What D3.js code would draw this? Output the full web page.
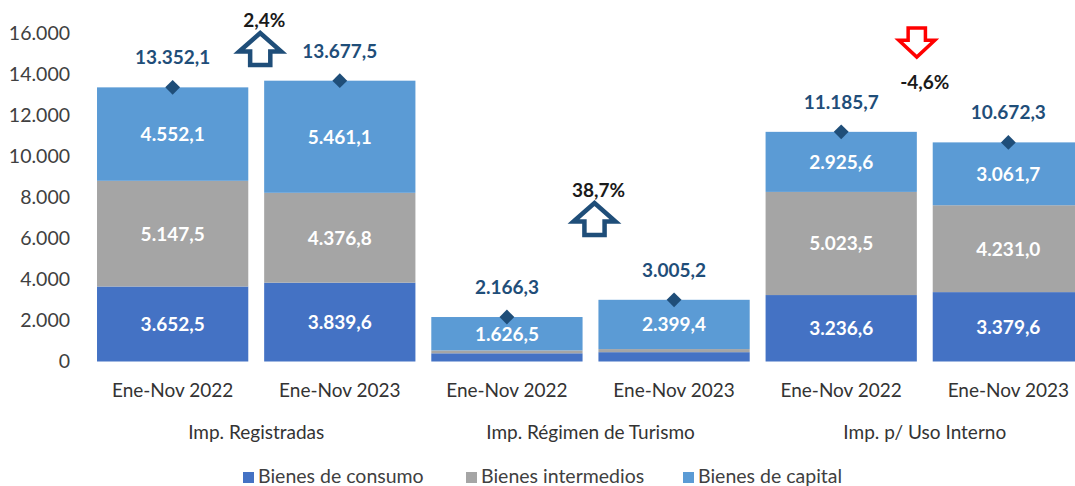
<!DOCTYPE html>
<html>
<head>
<meta charset="utf-8">
<style>
  body { margin: 0; background: #fff; overflow: hidden; }
  svg { font-family: Lato, "Open Sans", sans-serif; display: block; }
</style>
</head>
<body>
<svg id="chart" width="1075" height="486"></svg>
<script src="https://cdn.jsdelivr.net/npm/d3@7/dist/d3.min.js"></script>
<script>
// ---------------------------------------------------------------------------
//                               DATA
// ---------------------------------------------------------------------------
var groups = ["Imp. Registradas", "Imp. Régimen de Turismo", "Imp. p/ Uso Interno"];
var periods = ["Ene-Nov 2022", "Ene-Nov 2023"];
var seriesNames = ["Bienes de consumo", "Bienes intermedios", "Bienes de capital"];

// one value per bar (group x period), in order
var consumo     = [3652.5, 3839.6, 400.0, 455.0, 3236.6, 3379.6];
var intermedios = [5147.5, 4376.8, 139.8, 150.8, 5023.5, 4231.0];
var capital     = [4552.1, 5461.1, 1626.5, 2399.4, 2925.6, 3061.7];
var totals      = [13352.1, 13677.5, 2166.3, 3005.2, 11185.7, 10672.3];

// variation per group
var variation = ["2,4%", "38,7%", "-4,6%"];
var direction = ["up", "up", "down"];

var yTicks = [0, 2000, 4000, 6000, 8000, 10000, 12000, 14000, 16000];

// ---------------------------------------------------------------------------
//                               SETUP
// ---------------------------------------------------------------------------
var colors = ["#4472C4", "#A5A5A5", "#5B9BD5"];
var dark = "#1F4E79";
var textCol = "#333333";

var svg = d3.select("#chart");

var bars = [];
groups.forEach(function(g, gi) {
  periods.forEach(function(p, pi) {
    var i = gi * 2 + pi;
    bars.push({ id: i, group: g, period: p,
                values: [consumo[i], intermedios[i], capital[i]],
                total: totals[i] });
  });
});

var x = d3.scaleBand()
    .domain(bars.map(function(d) { return d.id; }))
    .range([89.5, 1091.5])
    .paddingInner(0.095)
    .paddingOuter(0.045);

var y = d3.scaleLinear()
    .domain([0, 16000])
    .range([361.5, 33]);

// number format with dot thousands and comma decimals
var locale = d3.formatLocale({ decimal: ",", thousands: ".", grouping: [3], currency: ["", ""] });
var fmt1 = locale.format(",.1f"),
    fmt0 = locale.format(",.0f");

// ---------------------------------------------------------------------------
//                               Y AXIS
// ---------------------------------------------------------------------------
var yAxis = d3.axisLeft(y).tickValues(yTicks).tickFormat(fmt0).tickSize(0).tickPadding(0);
var ga = svg.append("g").attr("transform", "translate(70,0)").call(yAxis);
ga.select(".domain").remove();
ga.selectAll("text")
    .style("font-family", "Lato, sans-serif")
    .style("font-size", "19.5px")
    .attr("fill", "#404040");

// ---------------------------------------------------------------------------
//                               BARS
// ---------------------------------------------------------------------------
var stack = d3.stack().keys([0, 1, 2]).value(function(d, k) { return d.values[k]; });
var layers = stack(bars);

var layer = svg.selectAll("g.layer")
    .data(layers)
    .enter().append("g")
    .attr("class", "layer")
    .attr("fill", function(d, i) { return colors[i]; });

layer.selectAll("rect")
    .data(function(d) { return d; })
    .enter().append("rect")
    .attr("x", function(d) { return x(d.data.id); })
    .attr("width", x.bandwidth())
    .attr("y", function(d) { return y(d[1]); })
    .attr("height", function(d) { return y(d[0]) - y(d[1]); });

// segment labels (only where the segment is big enough)
layers.forEach(function(l, k) {
  svg.append("g").selectAll("text")
      .data(l.filter(function(d) { return d[1] - d[0] > 1000; }))
      .enter().append("text")
      .attr("x", function(d) { return x(d.data.id) + x.bandwidth() / 2; })
      .attr("y", function(d) { return (y(d[0]) + y(d[1])) / 2; })
      .attr("dy", "0.36em")
      .attr("text-anchor", "middle")
      .attr("fill", "#fff")
      .style("font-size", "19px")
      .style("font-weight", "bold")
      .text(function(d) { return fmt1(d[1] - d[0]); });
});

// total markers
svg.append("g").selectAll("path")
    .data(bars)
    .enter().append("path")
    .attr("d", d3.symbol().type(d3.symbolDiamond2).size(140))
    .attr("transform", function(d) {
      return "translate(" + (x(d.id) + x.bandwidth() / 2) + "," + y(d.total) + ")"; })
    .attr("fill", dark);

svg.append("g").selectAll("text")
    .data(bars)
    .enter().append("text")
    .attr("x", function(d) { return x(d.id) + x.bandwidth() / 2; })
    .attr("y", function(d) { return y(d.total) - 30; })
    .attr("dy", "0.36em")
    .attr("text-anchor", "middle")
    .attr("fill", dark)
    .style("font-size", "19px")
    .style("font-weight", "bold")
    .text(function(d) { return fmt1(d.total); });

// ---------------------------------------------------------------------------
//                               X LABELS
// ---------------------------------------------------------------------------
svg.append("g").selectAll("text")
    .data(bars)
    .enter().append("text")
    .attr("x", function(d) { return x(d.id) + x.bandwidth() / 2; })
    .attr("y", 390)
    .attr("dy", "0.36em")
    .attr("text-anchor", "middle")
    .attr("fill", textCol)
    .style("font-size", "19px")
    .text(function(d) { return d.period; });

function groupCenter(gi) {
  return (x(gi * 2) + x(gi * 2 + 1) + x.bandwidth()) / 2;
}

svg.append("g").selectAll("text")
    .data(groups)
    .enter().append("text")
    .attr("x", function(d, i) { return groupCenter(i); })
    .attr("y", 432)
    .attr("dy", "0.36em")
    .attr("text-anchor", "middle")
    .attr("fill", textCol)
    .style("font-size", "19px")
    .text(function(d) { return d; });

// ---------------------------------------------------------------------------
//                               ARROWS
// ---------------------------------------------------------------------------
// arrow anchors: value at the top of each arrow box, per group
var arrowTop = [16000, 7720, 16240];
var arrowW = 42, arrowH = 32;

function arrowPath(w, h, up) {
  var hh = h * 0.58, sw = w * 0.48;
  var pts = up
    ? [[0, hh], [w / 2, 0], [w, hh], [(w + sw) / 2, hh], [(w + sw) / 2, h], [(w - sw) / 2, h], [(w - sw) / 2, hh]]
    : [[0, h - hh], [w / 2, h], [w, h - hh], [(w + sw) / 2, h - hh], [(w + sw) / 2, 0], [(w - sw) / 2, 0], [(w - sw) / 2, h - hh]];
  return d3.line()(pts) + "Z";
}

groups.forEach(function(g, gi) {
  var up = direction[gi] === "up";
  var cx = groupCenter(gi) + (up ? 4 : -8);
  var w = up ? arrowW : 36, h = up ? arrowH : 29;
  var top = y(arrowTop[gi]);
  svg.append("path")
      .attr("d", arrowPath(w, h, up))
      .attr("transform", "translate(" + (cx - w / 2) + "," + top + ")")
      .attr("fill", "#fff")
      .attr("stroke", up ? dark : "#FF0000")
      .attr("stroke-width", up ? 4.5 : 3.5)
      .attr("stroke-linejoin", "miter");
  svg.append("text")
      .attr("x", up ? cx + 4 : cx + 8)
      .attr("y", up ? top - 13 : top + h + 25)
      .attr("dy", "0.36em")
      .attr("text-anchor", "middle")
      .attr("fill", "#1a1a1a")
      .style("font-size", "19px")
      .style("font-weight", "bold")
      .text(variation[gi]);
});

// ---------------------------------------------------------------------------
//                               LEGEND
// ---------------------------------------------------------------------------
var legendX = [243, 466, 683];
var lg = svg.append("g").selectAll("g")
    .data(seriesNames)
    .enter().append("g")
    .attr("transform", function(d, i) { return "translate(" + legendX[i] + ",476)"; });
lg.append("rect")
    .attr("x", 0).attr("y", -4)
    .attr("width", 11).attr("height", 11)
    .attr("fill", function(d, i) { return colors[i]; });
lg.append("text")
    .attr("x", 15)
    .attr("dy", "0.36em")
    .attr("fill", "#404040")
    .style("font-size", "19.5px")
    .text(function(d) { return d; });
</script>
</body>
</html>
